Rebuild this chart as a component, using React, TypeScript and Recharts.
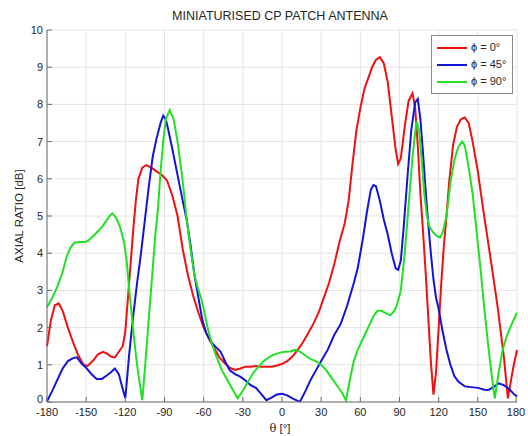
import React from "react";
import {
  LineChart,
  Line,
  XAxis,
  YAxis,
  CartesianGrid,
  Legend,
  Customized,
} from "recharts";

// theta [deg] and axial ratio [dB] for each cut
const thetaPhi0 = [
  -180, -177, -174, -171, -168, -164, -160, -156, -152, -149, -145, -141, -137, -134, -131, -128,
  -125, -122, -120, -118, -116, -114, -112, -110, -107, -104, -100, -96, -92, -88, -84, -80, -76,
  -72, -68, -64, -60, -56, -52, -48, -44, -40, -36, -32, -28, -24, -20, -16, -12, -8, -4, 0, 4, 8,
  12, 16, 20, 24, 28, 32, 36, 40, 44, 48, 51, 54, 57, 60, 63, 66, 69, 72, 75, 78, 81, 84, 87, 89,
  91, 94, 97, 100, 102, 104, 106, 108, 110, 112, 114, 116, 118, 120, 122, 124, 126, 128, 131, 134,
  137, 140, 143, 146, 150, 154, 160, 165, 170, 173, 175, 177, 180,
];
const arPhi0 = [
  1.5, 2.2, 2.6, 2.65, 2.45, 2.0, 1.6, 1.25, 1.0, 0.97, 1.1, 1.28, 1.35, 1.3, 1.22, 1.2,
  1.35, 1.5, 1.9, 2.8, 3.7, 4.6, 5.4, 6.0, 6.3, 6.37, 6.3, 6.2, 6.1, 5.95, 5.55, 5.0, 4.1,
  3.4, 2.85, 2.4, 2.0, 1.7, 1.45, 1.2, 1.05, 0.92, 0.86, 0.9, 0.95, 0.95, 0.97, 0.95, 0.95, 0.95, 0.98, 1.02, 1.1, 1.22,
  1.4, 1.6, 1.85, 2.1, 2.4, 2.8, 3.2, 3.7, 4.3, 4.8, 5.4, 6.4, 7.3, 7.9, 8.4, 8.7, 9.0, 9.2, 9.27, 9.1, 8.6, 7.7, 6.8, 6.4,
  6.55, 7.4, 8.1, 8.3, 7.9, 6.9, 5.6, 4.6, 3.5, 2.3, 1.1, 0.2, 0.8, 2.0, 3.2, 4.2, 5.0, 5.9, 6.9, 7.4,
  7.6, 7.65, 7.5, 7.0, 6.2, 5.2, 3.8, 2.6, 1.2, 0.1, 0.5, 0.9, 1.4,
];

const thetaPhi45 = [
  -180, -176, -172, -168, -164, -160, -157, -154, -150, -146, -142, -138, -134, -131, -128, -125,
  -122, -120, -117, -114, -111, -108, -105, -102, -99, -96, -93, -91, -89, -87, -84, -80, -76, -73,
  -70, -67, -64, -61, -58, -54, -50, -47, -43, -40, -36, -32, -28, -24, -20, -16, -12, -8, -4, 0,
  4, 8, 12, 14, 18, 22, 26, 30, 35, 40, 45, 50, 55, 58, 62, 65, 68, 70, 72, 75, 78, 81, 84, 87, 89,
  91, 93, 96, 99, 102, 104, 106, 108, 110, 112, 114, 116, 118, 120, 123, 126, 129, 132, 135, 140,
  145, 150, 155, 158, 162, 166, 170, 174, 178, 180,
];
const arPhi45 = [
  0.02, 0.3, 0.6, 0.9, 1.1, 1.18, 1.2, 1.05, 0.92, 0.75, 0.62, 0.62, 0.72, 0.8, 0.9, 0.75,
  0.35, 0.1, 1.3, 2.3, 3.2, 4.0, 4.9, 5.8, 6.6, 7.1, 7.5, 7.7, 7.6, 7.3, 6.8, 6.1, 5.4, 4.9,
  4.2, 3.4, 2.8, 2.2, 1.85, 1.6, 1.45, 1.35, 1.05, 0.85, 0.75, 0.68, 0.58, 0.45, 0.38, 0.22, 0.05, 0.12, 0.2, 0.22,
  0.18, 0.1, 0.03, 0.02, 0.3, 0.6, 0.85, 1.1, 1.4, 1.8, 2.1, 2.6, 3.2, 3.6, 4.4, 5.1, 5.7, 5.83, 5.8, 5.4, 4.9, 4.5, 4.0, 3.6, 3.55,
  3.8, 4.6, 6.0, 7.3, 8.05, 8.15, 7.6, 6.7, 5.7, 4.8, 4.0, 3.3, 2.8, 2.5, 1.9, 1.4, 1.0, 0.7, 0.55, 0.42,
  0.4, 0.38, 0.33, 0.32, 0.4, 0.5, 0.45, 0.35, 0.2, 0.15,
];

const thetaPhi90 = [
  -180, -176, -172, -168, -165, -162, -159, -155, -151, -148, -145, -142, -138, -135, -132, -130,
  -127, -124, -121, -119, -117, -115, -113, -111, -109, -107, -105, -103, -101, -99, -97, -95, -93,
  -91, -89, -86, -83, -80, -77, -75, -73, -70, -67, -64, -62, -60, -57, -54, -50, -46, -42, -38, -34,
  -30, -26, -22, -18, -14, -10, -6, -2, 2, 6, 10, 14, 18, 22, 26, 30, 34, 38, 42, 46, 49, 52, 55,
  58, 62, 66, 70, 73, 76, 80, 83, 86, 88, 91, 94, 97, 100, 103, 105, 107, 109, 111, 113, 116, 119,
  121, 123, 126, 129, 132, 135, 138, 140, 143, 146, 149, 152, 155, 158, 161, 163, 166, 169, 172,
  176, 180,
];
const arPhi90 = [
  2.55, 2.8, 3.1, 3.5, 3.9, 4.15, 4.28, 4.3, 4.3, 4.35, 4.45, 4.55, 4.7, 4.85, 5.0, 5.07,
  4.95, 4.7, 4.3, 3.8, 3.0, 2.3, 1.6, 1.0, 0.5, 0.05, 0.9, 1.8, 2.7, 3.6, 4.5, 5.2, 6.2,
  7.0, 7.6, 7.85, 7.6, 7.0, 6.2, 5.6, 4.9, 4.1, 3.4, 3.0, 2.8, 2.5, 2.0, 1.6, 1.2, 0.85, 0.6, 0.35, 0.1,
  0.3, 0.55, 0.78, 0.95, 1.1, 1.2, 1.28, 1.32, 1.35, 1.36, 1.4, 1.35, 1.25, 1.15, 1.1, 1.0, 0.85, 0.65, 0.45, 0.25, 0.05, 0.6, 1.1,
  1.4, 1.7, 2.0, 2.3, 2.45, 2.45, 2.38, 2.33, 2.45, 2.6, 3.0, 4.0, 5.3, 6.6, 7.55, 7.3, 6.5, 5.6, 5.0, 4.7, 4.55, 4.45,
  4.42, 4.55, 5.0, 5.9, 6.5, 6.85, 7.0, 6.9, 6.3, 5.6, 4.6, 3.6, 2.5, 1.5, 0.6, 0.1, 0.8, 1.4, 1.76,
  2.1, 2.4,
];

const thetaTicks = [-180, -150, -120, -90, -60, -30, 0, 30, 60, 90, 120, 150, 180];
const arTicks = [0, 1, 2, 3, 4, 5, 6, 7, 8, 9, 10];

const series = [
  { name: "0", color: "#f01010", theta: thetaPhi0, ar: arPhi0 },
  { name: "45", color: "#1414d8", theta: thetaPhi45, ar: arPhi45 },
  { name: "90", color: "#22e022", theta: thetaPhi90, ar: arPhi90 },
];

const FONT = "'Liberation Sans', Arial, sans-serif";
const AXIS = "#6e6e6e";
const LABEL = "#262626";

const BottomTick = ({ x, y, payload }: any) => (
  <g>
    <line x1={x} x2={x} y1={y} y2={y - 5} stroke={AXIS} />
    <text x={x} y={y + 14} textAnchor="middle" fontSize={11} fontFamily={FONT} fill={LABEL}>
      {payload.value}
    </text>
  </g>
);
const TopTick = ({ x, y }: any) => <line x1={x} x2={x} y1={y} y2={y + 5} stroke={AXIS} />;
const LeftTick = ({ x, y, payload }: any) => (
  <g>
    <line x1={x} x2={x + 5} y1={y} y2={y} stroke={AXIS} />
    <text
      x={x - 4}
      y={payload.value === 0 ? y + 1 : y + 4}
      textAnchor="end"
      fontSize={11}
      fontFamily={FONT}
      fill={LABEL}
    >
      {payload.value}
    </text>
  </g>
);
const RightTick = ({ x, y }: any) => <line x1={x} x2={x - 5} y1={y} y2={y} stroke={AXIS} />;

const Texts = () => (
  <g fontFamily={FONT} fill={LABEL}>
    <text x={280} y={20} textAnchor="middle" fontSize={12.5}>
      MINIATURISED CP PATCH ANTENNA
    </text>
    <text x={23} y={216} textAnchor="middle" fontSize={11.5} transform="rotate(-90 23 216)">
      AXIAL RATIO [dB]
    </text>
    <text x={280} y={432} textAnchor="middle" fontSize={11.5}>
      <tspan fontFamily="'DejaVu Serif', serif">θ</tspan> [°]
    </text>
  </g>
);

const LegendBox = () => (
  <div
    style={{
      border: "1px solid #8a8a8a",
      background: "#fff",
      padding: "3px 4px 3px 5px",
      fontFamily: FONT,
      fontSize: 11,
      color: LABEL,
      lineHeight: "17px",
    }}
  >
    {series.map((s) => (
      <div key={s.name} style={{ display: "flex", alignItems: "center" }}>
        <span style={{ display: "inline-block", width: 30, height: 2, background: s.color, marginRight: 4 }} />
        <span>ϕ = {s.name}°</span>
      </div>
    ))}
  </div>
);

export default function App() {
  return (
    <div style={{ position: "absolute", left: 0, top: 0, background: "#fff" }}>
      <LineChart width={528} height={436} margin={{ top: 30, right: 11, bottom: 0, left: 0 }}>
        <CartesianGrid stroke="#e4e4e4" />
        <XAxis
          type="number"
          dataKey="theta"
          domain={[-180, 180]}
          ticks={thetaTicks}
          height={34}
          tickSize={0}
          tickMargin={0}
          stroke={AXIS}
          tick={<BottomTick />}
        />
        <XAxis
          xAxisId="top"
          orientation="top"
          type="number"
          dataKey="theta"
          domain={[-180, 180]}
          ticks={thetaTicks}
          height={0}
          tickSize={0}
          tickMargin={0}
          stroke={AXIS}
          tick={<TopTick />}
        />
        <YAxis
          type="number"
          domain={[0, 10]}
          ticks={arTicks}
          width={47}
          tickSize={0}
          tickMargin={0}
          stroke={AXIS}
          tick={<LeftTick />}
        />
        <YAxis
          yAxisId="right"
          orientation="right"
          type="number"
          domain={[0, 10]}
          ticks={arTicks}
          width={0}
          tickSize={0}
          tickMargin={0}
          stroke={AXIS}
          tick={<RightTick />}
        />
        {series.map((s) => (
          <Line
            key={s.name}
            data={s.theta.map((t, i) => ({ theta: t, ar: s.ar[i] }))}
            dataKey="ar"
            type="linear"
            stroke={s.color}
            strokeWidth={2}
            dot={false}
            isAnimationActive={false}
          />
        ))}
        <Legend
          layout="horizontal"
          verticalAlign="middle"
          align="center"
          wrapperStyle={{ top: 35, left: 431, width: 82 }}
          content={<LegendBox />}
        />
        <Customized component={Texts} />
      </LineChart>
    </div>
  );
}
